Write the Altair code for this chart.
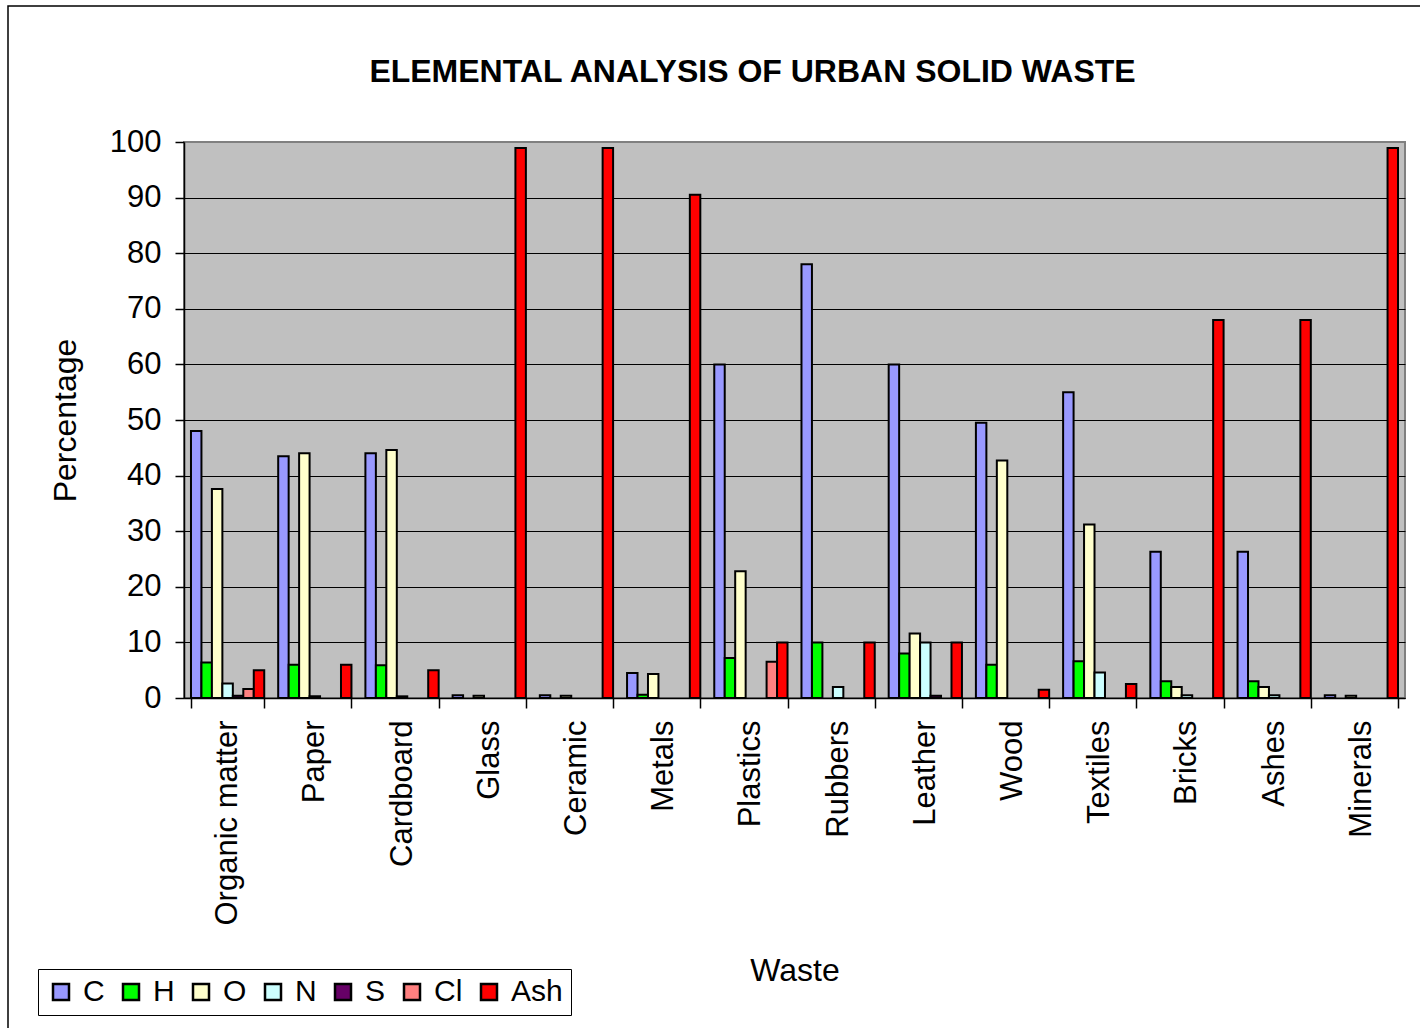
import altair as alt
import pandas as pd

# Elemental composition (% by mass) of each waste fraction
wastes = ["Organic matter", "Paper", "Cardboard", "Glass", "Ceramic", "Metals",
          "Plastics", "Rubbers", "Leather", "Wood", "Textiles", "Bricks",
          "Ashes", "Minerals"]
elements = ["C", "H", "O", "N", "S", "Cl", "Ash"]
colors = ["#9999FF", "#00FF00", "#FFFFCC", "#CCFFFF", "#660066", "#FF8080", "#FF0000"]

C   = [48.0, 43.5, 44.0, 0.5, 0.5, 4.5, 60.0, 78.0, 60.0, 49.5, 55.0, 26.3, 26.3, 0.5]
H   = [6.4, 6.0, 5.9, 0.0, 0.0, 0.6, 7.2, 10.0, 8.0, 6.0, 6.6, 3.0, 3.0, 0.0]
O   = [37.6, 44.0, 44.6, 0.4, 0.4, 4.3, 22.8, 0.0, 11.6, 42.7, 31.2, 2.0, 2.0, 0.4]
N   = [2.6, 0.3, 0.3, 0.0, 0.0, 0.0, 0.0, 2.0, 10.0, 0.0, 4.6, 0.5, 0.5, 0.0]
S   = [0.4, 0.0, 0.0, 0.0, 0.0, 0.0, 0.0, 0.0, 0.4, 0.0, 0.0, 0.0, 0.0, 0.0]
Cl  = [1.6, 0.0, 0.0, 0.0, 0.0, 0.0, 6.5, 0.0, 0.0, 0.0, 0.0, 0.0, 0.0, 0.0]
Ash = [5.0, 6.0, 5.0, 98.9, 98.9, 90.5, 10.0, 10.0, 10.0, 1.5, 2.5, 68.0, 68.0, 98.9]

series = {"C": C, "H": H, "O": O, "N": N, "S": S, "Cl": Cl, "Ash": Ash}
rows = []
for el in elements:
    for w, v in zip(wastes, series[el]):
        if v > 0:
            rows.append({"Waste": w, "Element": el, "Percentage": v})
df = pd.DataFrame(rows)

FONT = "Liberation Sans"
W, H_ = 1221, 556

bars = alt.Chart(df).mark_bar(stroke="black", strokeWidth=2).encode(
    x=alt.X("Waste:N", sort=wastes,
            scale=alt.Scale(domain=wastes, paddingInner=0.16, paddingOuter=0.08),
            axis=alt.Axis(title="Waste", labelAngle=-90, labelFontSize=31,
                          labelFont=FONT, labelColor="black", labelLimit=400,
                          tickSize=10, tickBand="extent", tickColor="black",
                          tickWidth=1.5, labelPadding=12, domainColor="black",
                          domainWidth=1.5, titleFontSize=32, titleFont=FONT,
                          titleFontWeight="normal", titleColor="black",
                          titleX=W / 2, titleY=272, titleBaseline="middle")),
    xOffset=alt.XOffset("Element:N", sort=elements,
                        scale=alt.Scale(domain=elements, paddingInner=0, paddingOuter=0)),
    y=alt.Y("Percentage:Q",
            scale=alt.Scale(domain=[0, 100], nice=False),
            axis=alt.Axis(title="Percentage", values=list(range(0, 101, 10)),
                          labelFontSize=31, labelFont=FONT, labelColor="black",
                          tickSize=9, tickColor="black", tickWidth=1.5,
                          labelPadding=14, domainColor="black", domainWidth=1.5,
                          grid=True,
                          gridColor=alt.condition("datum.value == 100",
                                                  alt.value("#808080"),
                                                  alt.value("black")),
                          gridWidth=1, titleFontSize=32, titleFont=FONT,
                          titleFontWeight="normal", titleColor="black",
                          titleX=-119, titleY=H_ / 2, titleBaseline="middle",
                          titleAlign="center")),
    color=alt.Color("Element:N", sort=elements,
                    scale=alt.Scale(domain=elements, range=colors),
                    legend=alt.Legend(title=None, orient="none", legendX=-146,
                                      legendY=827, direction="horizontal",
                                      gridAlign="none",
                                      symbolType="square", symbolSize=256,
                                      symbolStrokeColor="black",
                                      symbolStrokeWidth=2.5, symbolOpacity=1,
                                      labelFontSize=30,
                                      labelFont=FONT, labelColor="black",
                                      labelOffset=7, columnPadding=11,
                                      padding=8, strokeColor="black",
                                      fillColor="white")),
)

# outer border of the whole figure
frame = alt.Chart(pd.DataFrame({"k": [0]})).mark_rect(
    fill=None, stroke="black", strokeWidth=1.5, clip=False
).encode(
    x=alt.value(-176), x2=alt.value(W + 40),
    y=alt.value(-136), y2=alt.value(H_ + 400),
)

chart = alt.layer(frame, bars).properties(
    width=W, height=H_,
    padding={"left": 184, "top": 142, "right": 15, "bottom": 330},
    autosize=alt.AutoSizeParams(type="none"),
    background="white",
    title=alt.TitleParams("ELEMENTAL ANALYSIS OF URBAN SOLID WASTE",
                          font=FONT, fontSize=32, fontWeight="bold",
                          color="black", anchor="middle", dx=-42, offset=-84),
).configure_view(fill="#C0C0C0", stroke="#808080", strokeWidth=2
).configure_legend(symbolStrokeColor="black", symbolStrokeWidth=2.5)

chart.save("out.html", embed_options={"renderer": "svg", "actions": False})
